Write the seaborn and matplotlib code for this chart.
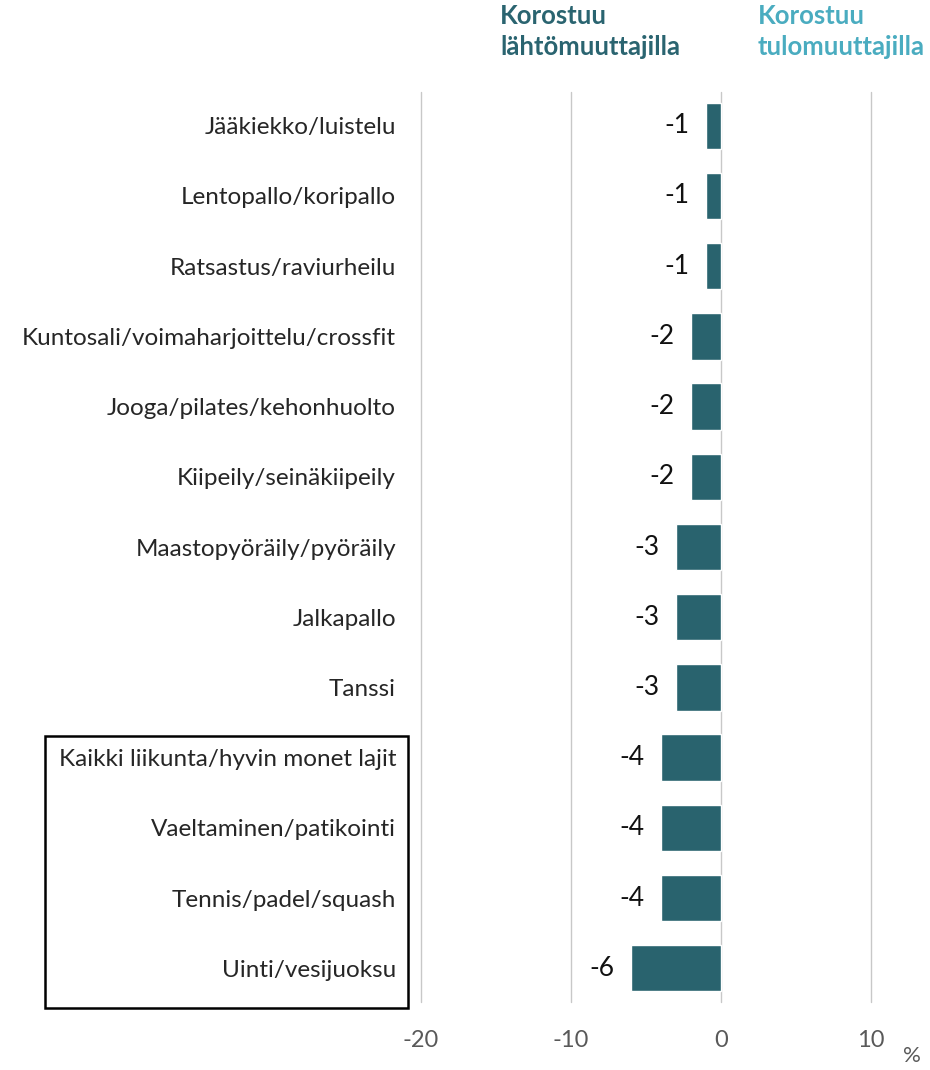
import matplotlib
matplotlib.use("Agg")
import matplotlib.pyplot as plt
import matplotlib.patches as patches
import seaborn as sns
import pandas as pd

lajit = [
    "Jääkiekko/luistelu",
    "Lentopallo/koripallo",
    "Ratsastus/raviurheilu",
    "Kuntosali/voimaharjoittelu/crossfit",
    "Jooga/pilates/kehonhuolto",
    "Kiipeily/seinäkiipeily",
    "Maastopyöräily/pyöräily",
    "Jalkapallo",
    "Tanssi",
    "Kaikki liikunta/hyvin monet lajit",
    "Vaeltaminen/patikointi",
    "Tennis/padel/squash",
    "Uinti/vesijuoksu",
]
arvot = [-1, -1, -1, -2, -2, -2, -3, -3, -3, -4, -4, -4, -6]
xticks = [-20, -10, 0, 10]

df = pd.DataFrame({"laji": lajit, "arvo": arvot})

sns.set_style("white")
plt.rcParams["font.family"] = ["Lato", "DejaVu Sans"]

fig = plt.figure(figsize=(9.3, 10.7), dpi=100)
ax = fig.add_axes([421 / 930, 1 - 1002 / 1070, 450 / 930, 910 / 1070])

sns.barplot(data=df, x="arvo", y="laji", color="#29636e", width=0.66,
            orient="h", ax=ax, saturation=1)

ax.set_xlim(-20, 10)
ax.set_ylim(len(lajit) - 1 + 0.48, -0.48)
ax.set_xticks(xticks)
ax.set_xticklabels([str(t) for t in xticks], color="#595959", fontsize=17)
ax.tick_params(axis="x", length=0, pad=20)
ax.tick_params(axis="y", length=0, pad=18, labelsize=17.5, labelcolor="#262626")
for t in xticks:
    ax.axvline(t, color="#c8c8c8", lw=1, zorder=0, clip_on=False)
for s in ax.spines.values():
    s.set_visible(False)
ax.set_xlabel("")
ax.set_ylabel("")

ax.bar_label(ax.containers[0], fmt="%d", padding=12, fontsize=19, color="#111111")

fig.text(903 / 930, 1 - 1066 / 1070, "%", fontsize=16, color="#595959",
         ha="left", va="bottom")

fig.text(500 / 930, 1 - 4 / 1070, "Korostuu\nlähtömuuttajilla", fontsize=18.5,
         fontweight="bold", color="#2a6470", ha="left", va="top", linespacing=1.35)
fig.text(758 / 930, 1 - 4 / 1070, "Korostuu\ntulomuuttajilla", fontsize=18.5,
         fontweight="bold", color="#4aacc0", ha="left", va="top", linespacing=1.35)

box = patches.Rectangle((45 / 930, 1 - 1008 / 1070), 363 / 930, 272 / 1070,
                        transform=fig.transFigure, fill=False, edgecolor="black",
                        lw=1.8)
fig.patches.append(box)

fig.savefig("out.png", dpi=100)
